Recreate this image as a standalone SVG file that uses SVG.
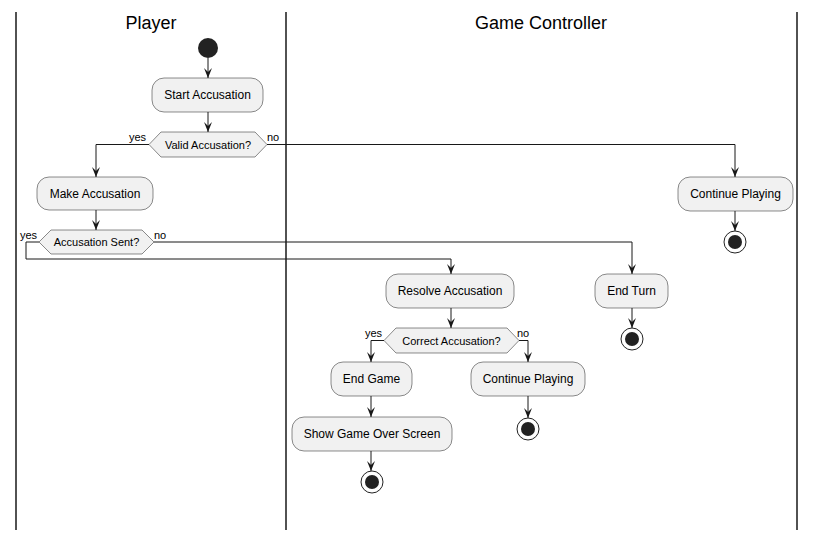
<svg xmlns="http://www.w3.org/2000/svg" width="815" height="542" viewBox="0 0 815 542">
<style>
.lane{stroke:#181818;stroke-width:1.5;fill:none}
.title{font-family:"Liberation Sans",Arial,sans-serif;font-size:18px;fill:#000;text-anchor:middle}
.box{fill:#F1F1F1;stroke:#181818;stroke-width:0.5}
.t{font-family:"Liberation Sans",Arial,sans-serif;font-size:12px;fill:#000;text-anchor:middle}
.dt{font-family:"Liberation Sans",Arial,sans-serif;font-size:11px;fill:#000;text-anchor:middle}
.lbl{font-family:"Liberation Sans",Arial,sans-serif;font-size:11px;fill:#000}
.ln{stroke:#181818;stroke-width:1;fill:none}
.end-o{fill:#fff;stroke:#222;stroke-width:1}
.end-i{fill:#222}
</style>
<defs>
<marker id="ah" markerWidth="10" markerHeight="10" viewBox="0 0 10 10" refX="10" refY="5" orient="auto" markerUnits="userSpaceOnUse">
<path d="M0,1 L10,5 L0,9 L4,5 Z" fill="#181818"/>
</marker>
</defs>
<rect width="815" height="542" fill="#fff"/>
<g id="lanes">
<line class="lane" x1="16" y1="12" x2="16" y2="530"/>
<line class="lane" x1="286" y1="12" x2="286" y2="530"/>
<line class="lane" x1="797" y1="12" x2="797" y2="530"/>
<text class="title" x="151" y="29">Player</text>
<text class="title" x="541" y="29">Game Controller</text>
</g>
<g id="connectors">
<line class="ln" x1="208" y1="58" x2="208" y2="78" marker-end="url(#ah)"/>
<line class="ln" x1="208" y1="112" x2="208" y2="132" marker-end="url(#ah)"/>
<polyline class="ln" points="149,144.5 96,144.5 96,177" marker-end="url(#ah)"/>
<polyline class="ln" points="267,144.5 735,144.5 735,177" marker-end="url(#ah)"/>
<line class="ln" x1="735" y1="211" x2="735" y2="231" marker-end="url(#ah)"/>
<line class="ln" x1="96" y1="210" x2="96" y2="230" marker-end="url(#ah)"/>
<polyline class="ln" points="39,242 26,242 26,259 451,259 451,274" marker-end="url(#ah)"/>
<polyline class="ln" points="154,242 632,242 632,274" marker-end="url(#ah)"/>
<line class="ln" x1="632" y1="308" x2="632" y2="328" marker-end="url(#ah)"/>
<line class="ln" x1="451" y1="308" x2="451" y2="328" marker-end="url(#ah)"/>
<polyline class="ln" points="384,340.5 371,340.5 371,362" marker-end="url(#ah)"/>
<polyline class="ln" points="519,340.5 528,340.5 528,362" marker-end="url(#ah)"/>
<line class="ln" x1="371" y1="396" x2="371" y2="417" marker-end="url(#ah)"/>
<line class="ln" x1="528" y1="396" x2="528" y2="418" marker-end="url(#ah)"/>
<line class="ln" x1="371" y1="451" x2="371" y2="471" marker-end="url(#ah)"/>
<text class="lbl" x="129" y="141">yes</text>
<text class="lbl" x="267" y="141">no</text>
<text class="lbl" x="20" y="239">yes</text>
<text class="lbl" x="154" y="239">no</text>
<text class="lbl" x="365" y="337">yes</text>
<text class="lbl" x="517" y="337">no</text>
</g>
<g id="start"><circle cx="208" cy="48" r="10" fill="#222"/></g>
<g id="start-accusation">
<rect class="box" x="152" y="78" width="111" height="34" rx="12"/>
<text class="t" x="207.5" y="99">Start Accusation</text>
</g>
<g id="valid-accusation">
<polygon class="box" points="149,144.5 161,132 255,132 267,144.5 255,157 161,157"/>
<text class="dt" x="208" y="148.5">Valid Accusation?</text>
</g>
<g id="make-accusation">
<rect class="box" x="37" y="177" width="116" height="33" rx="12"/>
<text class="t" x="95" y="198">Make Accusation</text>
</g>
<g id="accusation-sent">
<polygon class="box" points="39,242 51,230 142,230 154,242 142,254 51,254"/>
<text class="dt" x="96.5" y="246">Accusation Sent?</text>
</g>
<g id="continue-playing-1">
<rect class="box" x="678" y="177" width="115" height="34" rx="12"/>
<text class="t" x="735.5" y="198">Continue Playing</text>
</g>
<g id="end-1"><circle class="end-o" cx="735" cy="242" r="11"/><circle class="end-i" cx="735" cy="242" r="7"/></g>
<g id="resolve-accusation">
<rect class="box" x="386" y="274" width="128" height="34" rx="12"/>
<text class="t" x="450" y="295">Resolve Accusation</text>
</g>
<g id="end-turn">
<rect class="box" x="595" y="274" width="73" height="34" rx="12"/>
<text class="t" x="631.5" y="295">End Turn</text>
</g>
<g id="end-2"><circle class="end-o" cx="632" cy="339" r="11"/><circle class="end-i" cx="632" cy="339" r="7"/></g>
<g id="correct-accusation">
<polygon class="box" points="384,340.5 396,328 507,328 519,340.5 507,353 396,353"/>
<text class="dt" x="451.5" y="344.5">Correct Accusation?</text>
</g>
<g id="end-game">
<rect class="box" x="331" y="362" width="81" height="34" rx="12"/>
<text class="t" x="371.5" y="383">End Game</text>
</g>
<g id="continue-playing-2">
<rect class="box" x="471" y="362" width="114" height="34" rx="12"/>
<text class="t" x="528" y="383">Continue Playing</text>
</g>
<g id="end-3"><circle class="end-o" cx="528" cy="429" r="11"/><circle class="end-i" cx="528" cy="429" r="7"/></g>
<g id="show-game-over">
<rect class="box" x="292" y="417" width="160" height="34" rx="12"/>
<text class="t" x="372" y="438">Show Game Over Screen</text>
</g>
<g id="end-4"><circle class="end-o" cx="372" cy="482" r="11"/><circle class="end-i" cx="372" cy="482" r="7"/></g>
</svg>
